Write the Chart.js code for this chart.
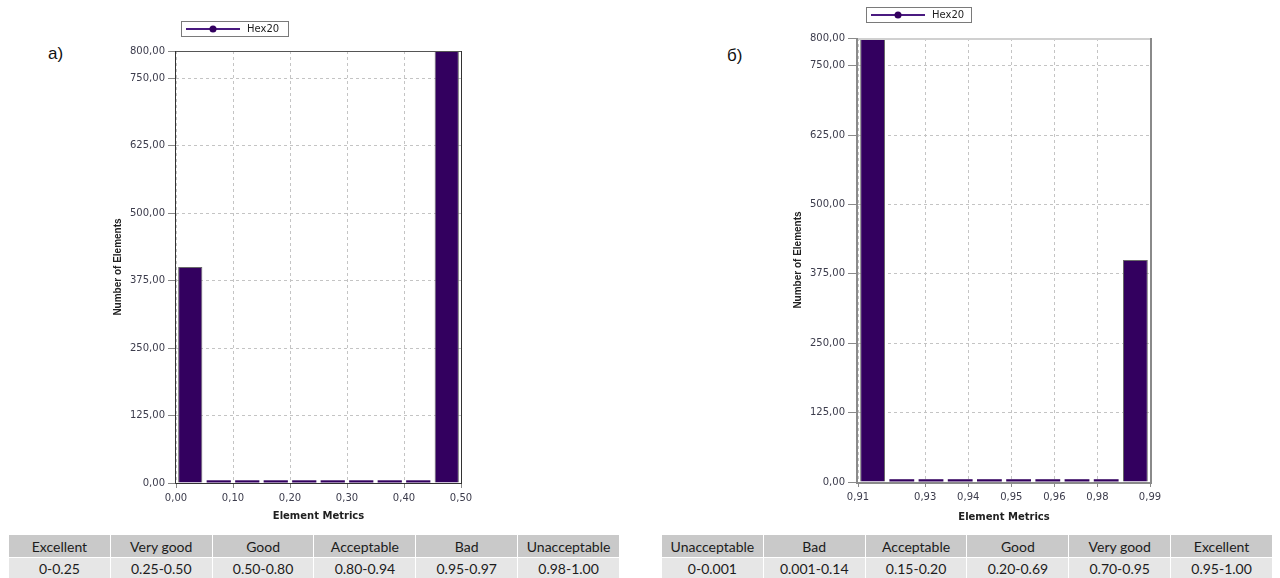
<!DOCTYPE html>
<html>
<head>
<meta charset="utf-8">
<title>Element Metrics – Hex20</title>
<script src="https://cdn.jsdelivr.net/npm/chart.js@4.4.1/dist/chart.umd.min.js"></script>
<style>
  html, body { margin: 0; padding: 0; background: #fff; }
  body { position: relative; width: 1280px; height: 578px; overflow: hidden; }
  .panel { position: absolute; top: 0; width: 640px; height: 530px; }
  .tag { position: absolute; font: 17px "Liberation Sans", Arial, sans-serif; line-height: 17px; color: #111; }
  table.crit {
    position: absolute; top: 534px; width: 612px; border-collapse: collapse;
    table-layout: fixed; font: 14px Lato, "Open Sans", sans-serif; color: #1c1c1c;
  }
  table.crit td { text-align: center; border: 1px solid #fff; padding: 0; }
  table.crit tr.head td { background: #c9c9c9; height: 22px; }
  table.crit tr.vals td { background: #e6e6e6; height: 20px; }
</style>
</head>
<body>
<div class="tag" style="left:48px; top:45px;">а)</div>
<div class="tag" style="left:727px; top:47px;">б)</div>
<div class="panel" style="left:0"><canvas id="chartA"></canvas></div>
<div class="panel" style="left:640px"><canvas id="chartB"></canvas></div>
<table class="crit" id="tableA" style="left:8px"></table>
<table class="crit" id="tableB" style="left:661px"></table>

<script>
// Histogram data: bin centres and element counts per bin
const seriesName = 'Hex20';
const countTicks = [0, 125, 250, 375, 500, 625, 750, 800];

const binsA = [0.025, 0.075, 0.125, 0.175, 0.225, 0.275, 0.325, 0.375, 0.425, 0.475];
const countsA = [400, 5, 5, 5, 5, 5, 5, 5, 5, 800];
const metricTicksA = [0, 0.1, 0.2, 0.3, 0.4, 0.5];

const binsB = [0.914, 0.922, 0.930, 0.938, 0.946, 0.954, 0.962, 0.970, 0.978, 0.986];
const countsB = [800, 5, 5, 5, 5, 5, 5, 5, 5, 400];
const metricTicksB = [0.91, 0.9284, 0.9402, 0.952, 0.9638, 0.9756, 0.99];

// Quality criteria under each chart
const gradesA = ['Excellent', 'Very good', 'Good', 'Acceptable', 'Bad', 'Unacceptable'];
const rangesA = ['0-0.25', '0.25-0.50', '0.50-0.80', '0.80-0.94', '0.95-0.97', '0.98-1.00'];
const gradesB = ['Unacceptable', 'Bad', 'Acceptable', 'Good', 'Very good', 'Excellent'];
const rangesB = ['0-0.001', '0.001-0.14', '0.15-0.20', '0.20-0.69', '0.70-0.95', '0.95-1.00'];

const barColor = '#33005f';

function fmt(v) {
    return v.toFixed(2).replace('.', ',');
}

// Legend drawn as a framed box with a line+marker sample
const legendBox = {
    id: 'legendBox',
    afterDraw(chart, args, opts) {
        const ctx = chart.ctx;
        const ds = chart.data.datasets[0];
        const x = Math.round(chart.chartArea.left + opts.dx);
        const y = opts.top;
        ctx.save();
        ctx.strokeStyle = '#7a7a7a';
        ctx.lineWidth = 1;
        ctx.strokeRect(x + 0.5, y + 0.5, opts.width, 15);
        ctx.strokeStyle = '#4a1a80';
        ctx.lineWidth = 2;
        ctx.beginPath();
        ctx.moveTo(x + 5, y + 8);
        ctx.lineTo(x + 59, y + 8);
        ctx.stroke();
        ctx.fillStyle = ds.backgroundColor;
        ctx.beginPath();
        ctx.arc(x + 32, y + 8, 3.5, 0, Math.PI * 2);
        ctx.fill();
        ctx.font = '10px "DejaVu Sans"';
        ctx.fillStyle = '#1e1e1e';
        ctx.textBaseline = 'middle';
        ctx.fillText(ds.label, x + 66, y + 8.5);
        ctx.restore();
    }
};

// Solid plot frame: axes on the left/bottom plus top and right edges
const plotFrame = {
    id: 'plotFrame',
    afterDatasetsDraw(chart, args, opts) {
        const {left, right, top, bottom} = chart.chartArea;
        const ctx = chart.ctx;
        const w = opts.width;
        const h = w / 2;
        ctx.save();
        ctx.lineWidth = w;
        ctx.strokeStyle = opts.topColor;
        ctx.beginPath();
        ctx.moveTo(left, top + h);
        ctx.lineTo(right, top + h);
        ctx.stroke();
        ctx.strokeStyle = opts.rightColor;
        ctx.beginPath();
        ctx.moveTo(right + h, top);
        ctx.lineTo(right + h, bottom);
        ctx.stroke();
        ctx.strokeStyle = opts.axisColor;
        ctx.beginPath();
        ctx.moveTo(left - h, top);
        ctx.lineTo(left - h, bottom + h);
        ctx.lineTo(right + w, bottom + h);
        ctx.stroke();
        ctx.restore();
    }
};

function buildChart(canvasId, bins, counts, metricTicks, cfg) {
    const ctx = document.getElementById(canvasId);
    const points = bins.map((b, i) => ({x: b, y: counts[i]}));
    const tickFont = {family: 'DejaVu Sans', size: 10};
    const gridDash = {display: false, dash: [3, 3]};

    return new Chart(ctx, {
        type: 'bar',
        data: {
            datasets: [{
                label: seriesName,
                data: points,
                backgroundColor: barColor,
                borderColor: '#6a6a6a',
                // near-empty bins show as a flat dark strip
                borderWidth: c => (c.raw && c.raw.y < 20 ? 0 : 1),
                barPercentage: 0.85,
                categoryPercentage: 1
            }]
        },
        options: {
            responsive: true,
            maintainAspectRatio: false,
            animation: false,
            layout: {
                padding: {left: cfg.padLeft, right: cfg.padRight, top: cfg.padTop, bottom: cfg.padBottom}
            },
            plugins: {
                legend: {display: false},
                tooltip: {enabled: false},
                legendBox: cfg.legend,
                plotFrame: cfg.frame
            },
            scales: {
                x: {
                    type: 'linear',
                    offset: false,
                    min: metricTicks[0],
                    max: metricTicks[metricTicks.length - 1],
                    afterBuildTicks: scale => {
                        scale.ticks = metricTicks.map(v => ({value: v}));
                    },
                    afterFit: scale => { scale.height = cfg.xHeight; },
                    ticks: {
                        font: tickFont,
                        color: '#3c3c4c',
                        padding: 4,
                        maxRotation: 0,
                        autoSkip: false,
                        callback: v => fmt(v)
                    },
                    grid: {
                        color: '#c4c4c4',
                        tickBorderDash: [],
                        tickColor: '#8a8a8a',
                        tickLength: 5,
                        offset: false
                    },
                    border: gridDash,
                    title: {
                        display: true,
                        text: 'Element Metrics',
                        font: {family: 'DejaVu Sans', size: 10, weight: 'bold', lineHeight: 1.2},
                        color: '#202020',
                        padding: 0
                    }
                },
                y: {
                    min: 0,
                    max: 800,
                    afterBuildTicks: scale => {
                        scale.ticks = countTicks.map(v => ({value: v}));
                    },
                    afterFit: scale => { scale.width = cfg.yWidth; },
                    ticks: {
                        font: tickFont,
                        color: '#3c3c4c',
                        padding: 3,
                        autoSkip: false,
                        callback: v => fmt(v)
                    },
                    grid: {
                        color: '#c4c4c4',
                        tickBorderDash: [],
                        tickColor: '#8a8a8a',
                        tickLength: cfg.yTickLength
                    },
                    border: gridDash,
                    title: {
                        display: true,
                        text: 'Number of Elements',
                        font: {family: 'Liberation Sans', size: 10, weight: 'bold', lineHeight: 1.2},
                        color: '#202020',
                        padding: 0
                    }
                }
            }
        },
        plugins: [legendBox, plotFrame]
    });
}

function fillTable(id, grades, ranges) {
    const table = document.getElementById(id);
    const head = table.insertRow();
    head.className = 'head';
    grades.forEach(g => { head.insertCell().textContent = g; });
    const vals = table.insertRow();
    vals.className = 'vals';
    ranges.forEach(r => { vals.insertCell().textContent = r; });
}

buildChart('chartA', binsA, countsA, metricTicksA, {
    padLeft: 112, padRight: 179, padTop: 51, padBottom: 8,
    yWidth: 64, xHeight: 39, yTickLength: 8,
    legend: {dx: 5, top: 21, width: 107},
    frame: {width: 1, topColor: '#555555', rightColor: '#333333', axisColor: '#333333'}
});

buildChart('chartB', binsB, countsB, metricTicksB, {
    padLeft: 152, padRight: 130, padTop: 38, padBottom: 7,
    yWidth: 66, xHeight: 41, yTickLength: 10,
    legend: {dx: 8, top: 7, width: 105},
    frame: {width: 2, topColor: '#d0d0d0', rightColor: '#8a8a8a', axisColor: '#8a8a8a'}
});

fillTable('tableA', gradesA, rangesA);
fillTable('tableB', gradesB, rangesB);
</script>
</body>
</html>
